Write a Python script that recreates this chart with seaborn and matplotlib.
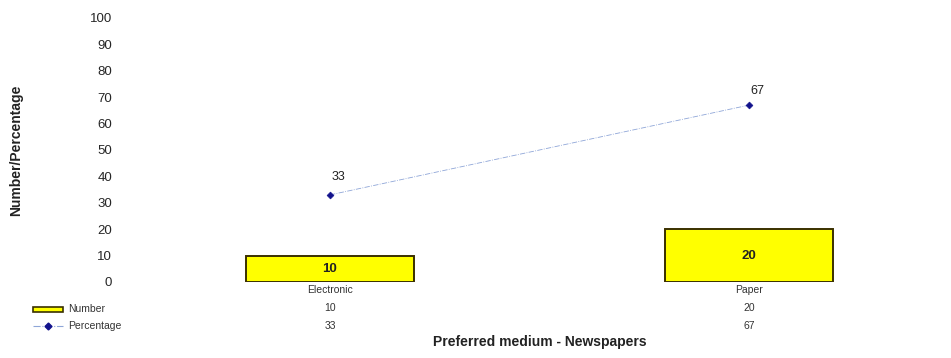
import matplotlib
matplotlib.use("Agg")
import matplotlib.pyplot as plt
from matplotlib.patches import Rectangle
from matplotlib.lines import Line2D
from matplotlib.transforms import blended_transform_factory
import seaborn as sns
import pandas as pd

categories = ["Electronic", "Paper"]
numbers = [10, 20]
percentages = [33, 67]
y_ticks = [0, 10, 20, 30, 40, 50, 60, 70, 80, 90, 100]

sns.set_style("white")
plt.rcParams["font.family"] = ["Liberation Sans", "DejaVu Sans"]

df = pd.DataFrame({"medium": categories, "Number": numbers, "Percentage": percentages})

fig = plt.figure(figsize=(9.51, 3.58), dpi=100)
ax = fig.add_axes([120.5 / 951, 1 - 282 / 358, 817 / 951, 264 / 358])

sns.barplot(data=df, x="medium", y="Number", ax=ax, color="#FFFF00",
            saturation=1, width=0.4, edgecolor="#3a3000", linewidth=1.4)
sns.pointplot(data=df, x="medium", y="Percentage", ax=ax, color="#1a1aa0",
              markers="D", linestyles="-.", markersize=3.5, linewidth=0.6,
              errorbar=None)
for ln in ax.lines:
    ln.set_color("#8fa6d8")
    ln.set_markerfacecolor("#12128c")
    ln.set_markeredgecolor("#12128c")

ax.set_xlim(-0.5, 1.45)
ax.set_ylim(0, 100)
ax.set_yticks(y_ticks)
ax.tick_params(axis="y", labelsize=9.5, length=3, color="#cccccc", pad=3)
ax.set_xticks([])
ax.set_xlabel("")
ax.set_ylabel("")
for s in ax.spines.values():
    s.set_visible(False)

# values written on bars and above points
for i, v in enumerate(numbers):
    ax.text(i, v / 2, str(v), ha="center", va="center", fontsize=9.5,
            fontweight="bold", color="#222222")
label_offsets = [4.5, 3]
for i, v in enumerate(percentages):
    ax.text(i + 0.02, v + label_offsets[i], str(v), ha="center", va="bottom",
            fontsize=9, color="#222222")

# data table beneath the axis
tr = blended_transform_factory(ax.transData, fig.transFigure)
def fy(py):
    return 1 - py / 358
for i, cat in enumerate(categories):
    ax.text(i, fy(290), cat, transform=tr, ha="center", va="center",
            fontsize=7.5, color="#333333")
    ax.text(i, fy(308), str(numbers[i]), transform=tr, ha="center",
            va="center", fontsize=7.5, color="#333333")
    ax.text(i, fy(326), str(percentages[i]), transform=tr, ha="center",
            va="center", fontsize=7.5, color="#333333")

fig.patches.append(Rectangle((33 / 951, fy(312)), 30 / 951, 5 / 358,
                             transform=fig.transFigure, facecolor="#FFFF00",
                             edgecolor="#3a3000", linewidth=1.2))
fig.text(68 / 951, fy(309), "Number", fontsize=7.5, va="center",
         color="#333333")
fig.lines.append(Line2D([33 / 951, 63 / 951], [fy(326), fy(326)],
                        transform=fig.transFigure, color="#8fa6d8",
                        linewidth=0.8, linestyle="-."))
fig.lines.append(Line2D([48 / 951], [fy(326)], transform=fig.transFigure,
                        linestyle="none", marker="D", markersize=3.5,
                        color="#12128c"))
fig.text(68 / 951, fy(326), "Percentage", fontsize=7.5, va="center",
         color="#333333")

fig.text(540 / 951, fy(342), "Preferred medium - Newspapers", ha="center",
         va="center", fontsize=10, fontweight="bold", color="#222222")
fig.text(16 / 951, fy(150), "Number/Percentage", rotation=90, ha="center",
         va="center", fontsize=10, fontweight="bold", color="#222222")

fig.savefig("out.png", dpi=100)
